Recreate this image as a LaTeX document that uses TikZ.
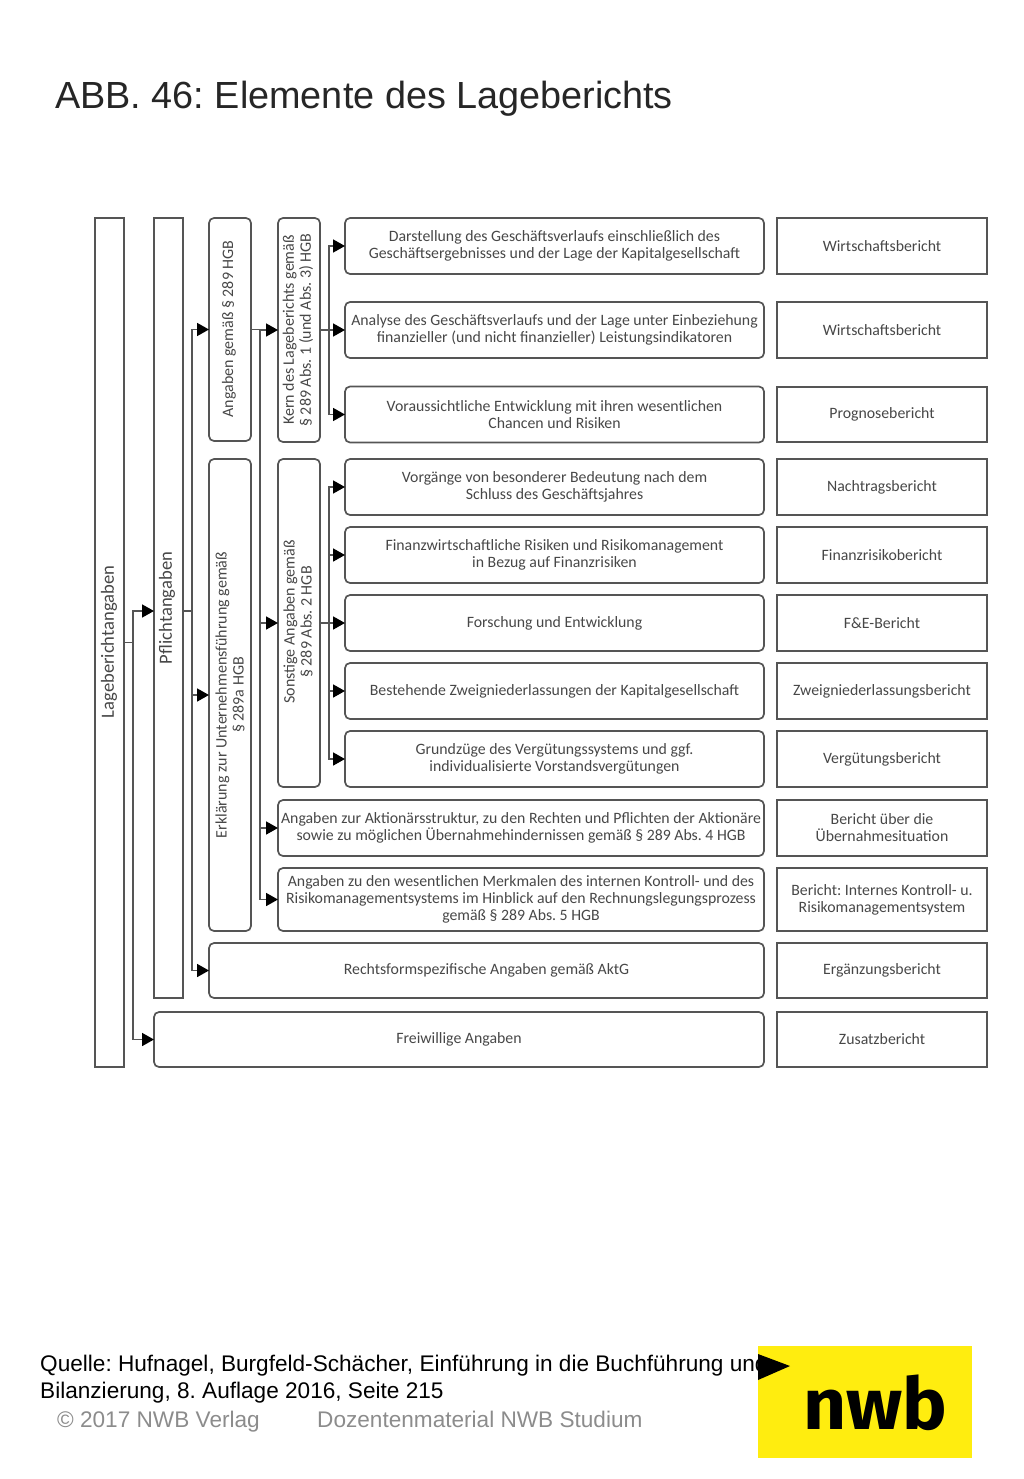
\documentclass[tikz,border=0pt]{standalone}
\usepackage{fontspec}
\usepackage{tikz}
\usetikzlibrary{arrows.meta}
\setmainfont{Liberation Sans}
\newfontfamily\boxfont{Carlito}
\newfontfamily\logofont{Fira Sans}[BoldFont={* Bold}]
\frenchspacing
\definecolor{linegray}{HTML}{555555}
\definecolor{textgray}{HTML}{474747}
\definecolor{footgray}{HTML}{8C8C8C}
\definecolor{nwbyellow}{HTML}{FFED0F}
\tikzstyle{barbox}=[draw=linegray,line width=1.7pt,rectangle,inner sep=0pt,outer sep=0pt]
\tikzstyle{roundbox}=[barbox,rounded corners=5pt,align=center,text=textgray,font=\boxfont\fontsize{15.8}{17}\selectfont]
\tikzstyle{reportbox}=[barbox,align=center,text=textgray,font=\boxfont\fontsize{15.8}{17}\selectfont]
\tikzstyle{sidetext}=[rotate=90,align=center,inner sep=0pt,text=textgray,font=\boxfont\fontsize{16}{17}\selectfont]
\tikzstyle{link}=[draw=linegray,line width=1.7pt,-{Triangle[length=12pt,width=13pt,color=black]}]
\tikzstyle{stem}=[draw=linegray,line width=1.7pt]
\tikzstyle{foot}=[anchor=base west,inner sep=0pt,font=\fontsize{22.6}{27}\selectfont]

\begin{document}
\begin{tikzpicture}[x=1pt,y=-1pt]
  \useasboundingbox (0,0) rectangle (1024,1479);
  \node[anchor=base west,inner sep=0pt,font=\fontsize{37.8}{46}\selectfont,text=black!85] (title) at (55,109) {ABB. 46: Elemente des Lageberichts};

  % the two long bars and the upright boxes
  \node[barbox,minimum width=29pt,minimum height=849pt] (Lage) at (109.5,642.5) {};
  \node[barbox,minimum width=29pt,minimum height=780pt] (Pflicht) at (168.5,608) {};
  \foreach \name/\cx/\cy/\high in {Angaben/230/329.5/223, Erklaerung/230/695/472,
                                   Kern/299/330/224, Sonstige/299/623/328}
    \node[roundbox,minimum width=42pt,minimum height=\high pt] (\name) at (\cx,\cy) {};
  \foreach \name/\cx/\cy/\text in {
      Angaben/229/329/{Angaben gemäß § 289 HGB},
      Erklaerung/230/695/{Erklärung zur Unternehmensführung gemäß\\§ 289a HGB},
      Kern/298/330/{Kern des Lageberichts gemäß\\§ 289 Abs. 1 (und Abs. 3) HGB},
      Sonstige/298/622/{Sonstige Angaben gemäß\\§ 289 Abs. 2 HGB}}
    \node[sidetext] (\name-text) at (\cx,\cy) {\text};
  \foreach \name/\cx/\cy/\text in {Lage/109/642/Lageberichtangaben, Pflicht/167/608/Pflichtangaben}
    \node[sidetext,font=\boxfont\fontsize{18.6}{20}\selectfont] (\name-text) at (\cx,\cy) {\text};

  % content boxes, one row each
  \foreach \name/\cy/\text in {
      B-1/246/{Darstellung des Geschäftsverlaufs einschließlich des\\Geschäftsergebnisses und der Lage der Kapitalgesellschaft},
      B-2/330/{Analyse des Geschäftsverlaufs und der Lage unter Einbeziehung\\finanzieller (und nicht finanzieller) Leistungsindikatoren},
      B-3/414.5/{Voraussichtliche Entwicklung mit ihren wesentlichen\\Chancen und Risiken},
      B-4/487/{Vorgänge von besonderer Bedeutung nach dem\\Schluss des Geschäftsjahres},
      B-5/555/{Finanzwirtschaftliche Risiken und Risikomanagement\\in Bezug auf Finanzrisiken},
      B-6/623/{Forschung und Entwicklung},
      B-7/691/{Bestehende Zweigniederlassungen der Kapitalgesellschaft},
      B-8/759/{Grundzüge des Vergütungssystems und ggf.\\individualisierte Vorstandsvergütungen}}
    \node[roundbox,minimum width=419pt,minimum height=56pt] (\name) at (554.5,\cy) {\text};
  \node[roundbox,minimum width=486pt,minimum height=56pt] (Aktionaer) at (521,828) {Angaben zur Aktionärsstruktur, zu den Rechten und Pflichten der Aktionäre\\sowie zu möglichen Übernahmehindernissen gemäß § 289 Abs. 4 HGB};
  \node[roundbox,minimum width=486pt,minimum height=63pt] (Kontroll) at (521,899.5) {Angaben zu den wesentlichen Merkmalen des internen Kontroll- und des\\Risikomanagementsystems im Hinblick auf den Rechnungslegungsprozess\\gemäß § 289 Abs. 5 HGB};
  \node[roundbox,minimum width=555pt,minimum height=55pt] (Rechtsform) at (486.5,970.5) {Rechtsformspezifische Angaben gemäß AktG};
  \node[roundbox,minimum width=610pt,minimum height=55pt] (Freiwillig) at (459,1039.5) {Freiwillige Angaben};

  % report names on the right
  \foreach \name/\cy/\high/\text in {
      R-1/246/56/Wirtschaftsbericht, R-2/330/56/Wirtschaftsbericht, R-3/414.5/55/Prognosebericht,
      R-4/487/56/Nachtragsbericht, R-5/555/56/Finanzrisikobericht, R-6/623/56/F\&E-Bericht,
      R-7/691/56/Zweigniederlassungsbericht, R-8/759/56/Vergütungsbericht,
      R-9/828/56/{Bericht über die\\Übernahmesituation},
      R-10/899.5/63/{Bericht: Internes Kontroll- u.\\Risikomanagementsystem},
      R-11/970.5/55/Ergänzungsbericht, R-12/1039.5/55/Zusatzbericht}
    \node[reportbox,minimum width=210pt,minimum height=\high pt] (\name) at (882,\cy) {\text};

  % junctions of the connectors
  \coordinate (J-lage) at (133,642.5);
  \coordinate (J-pflicht) at (192,611);
  \coordinate (J-angaben) at (260,329.5);
  \coordinate (J-kern) at (329,330);
  \coordinate (J-sonstige) at (329,623);

  \draw[stem] (Lage.east) -- (J-lage);
  \draw[link] (J-lage) |- ([yshift=-3pt]Pflicht.west);
  \draw[link] (J-lage) |- (Freiwillig.west);
  \draw[stem] (Pflicht.east |- J-pflicht) -- (J-pflicht);
  \foreach \to in {Angaben,Erklaerung,Rechtsform}
    \draw[link] (J-pflicht) |- (\to.west);
  \draw[stem] (Angaben.east) -- (J-angaben);
  \foreach \to in {Kern,Sonstige,Aktionaer,Kontroll}
    \draw[link] (J-angaben) |- (\to.west);
  \draw[stem] (Kern.east) -- (J-kern);
  \foreach \to in {1,2,3}
    \draw[link] (J-kern) |- (B-\to.west);
  \draw[stem] (Sonstige.east) -- (J-sonstige);
  \foreach \to in {4,5,6,7,8}
    \draw[link] (J-sonstige) |- (B-\to.west);

  % footer
  \node[foot] (quelle) at (40,1371) {Quelle: Hufnagel, Burgfeld-Schächer, Einführung in die Buchführung und};
  \node[foot] (auflage) at (40,1398) {Bilanzierung, 8. Auflage 2016, Seite 215};
  \node[foot,text=footgray] (verlag) at (57,1427) {© 2017 NWB Verlag};
  \node[foot,text=footgray] (material) at (317,1427) {Dozentenmaterial NWB Studium};
  \node[fill=nwbyellow,minimum width=214pt,minimum height=112pt,inner sep=0pt,outer sep=0pt] (logo) at (865,1402) {};
  \node[inner sep=0pt,xscale=1.04,font=\logofont\bfseries\fontsize{72}{72}\selectfont] (nwb) at (875.5,1403) {nwb};
  \fill[black] (758,1354) -- (790,1366) -- (758,1380) -- cycle;
\end{tikzpicture}
\end{document}
